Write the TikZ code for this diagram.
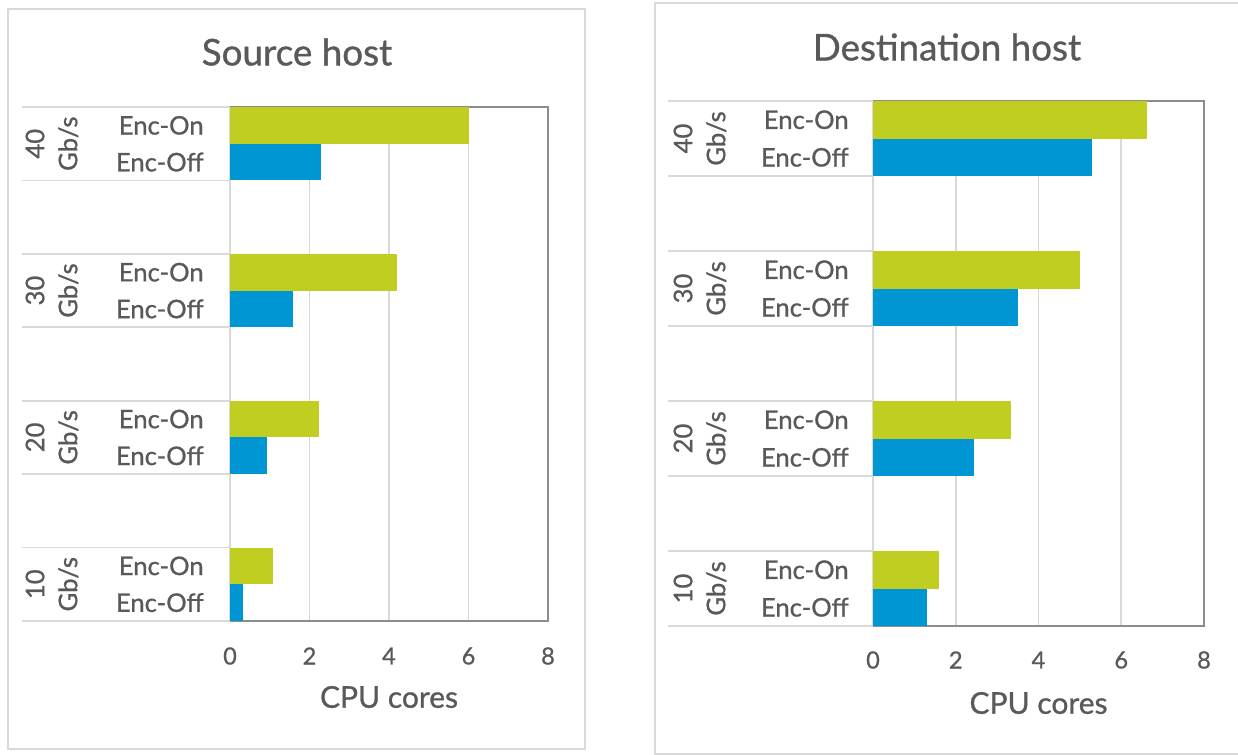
\documentclass[tikz,border=0pt]{standalone}
\usepackage{fontspec}
\setmainfont{Lato}[FakeBold=0.9]
\definecolor{encon}{HTML}{C0CE22}
\definecolor{encoff}{HTML}{0096D3}
\definecolor{txt}{HTML}{595959}
\definecolor{framec}{HTML}{D9D9D9}
\definecolor{plotb}{HTML}{8C8C8C}
\definecolor{gridc}{HTML}{D9D9D9}
\tikzset{
  panelbox/.style={draw=framec, line width=1pt},
  gridline/.style={draw=gridc, line width=0.9pt},
  plotborder/.style={draw=plotb, line width=1.1pt},
  onbar/.style={fill=encon},
  offbar/.style={fill=encoff},
  titletext/.style={text=txt, font=\fontsize{18.4}{21}\selectfont, inner sep=0pt},
  enclabel/.style={text=txt, font=\fontsize{12.8}{14}\selectfont, anchor=east, inner sep=0pt},
  catlabel/.style={text=txt, font=\fontsize{12.8}{16.5}\selectfont, rotate=90, align=center, inner sep=0pt},
  ticklabel/.style={text=txt, font=\fontsize{11.8}{13}\selectfont, inner sep=0pt},
  axistitle/.style={text=txt, font=\fontsize{15}{17}\selectfont, inner sep=0pt},
}
% panel body, uses \Pn \Xz \U \T \R \Lx \Cx \Ex \Ty \Cy \Data
\newcommand\chartbody{%
  \pgfmathsetmacro\Xe{\Xz+8*\U}
  \pgfmathsetmacro\Bt{\T+14*\R}
  % gridlines
  \foreach \k in {2,4,6}{
    \pgfmathsetmacro\gx{\Xz+\k*\U}
    \draw[gridline] (\gx,\T) -- (\gx,\Bt);
  }
  \draw[gridline] (\Xz,\T) -- (\Xz,\Bt);
  % plot border (top, right, bottom)
  \draw[plotborder] (\Xz,\T) -- (\Xe,\T) -- (\Xe,\Bt) -- (\Xz,\Bt);
  % groups
  \foreach \g/\on/\off [count=\i from 0] in \Data {
    \pgfmathsetmacro\gt{\T+\i*4*\R}
    \pgfmathsetmacro\gm{\gt+\R}
    \pgfmathsetmacro\gb{\gt+2*\R}
    \pgfmathsetmacro\xon{\Xz+\on*\U}
    \pgfmathsetmacro\xoff{\Xz+\off*\U}
    \pgfmathsetmacro\yon{\gt+0.5*\R}
    \pgfmathsetmacro\yoff{\gt+1.5*\R}
    \fill[onbar] (\Xz,\gt) rectangle (\xon,\gm);
    \fill[offbar] (\Xz,\gm) rectangle (\xoff,\gb);
    \draw[gridline] (\Lx,\gt) -- (\Xz,\gt);
    \draw[gridline] (\Lx,\gb) -- (\Xz,\gb);
    \node[enclabel] (\Pn-on\g) at (\Ex,\yon) {Enc-On};
    \node[enclabel] (\Pn-off\g) at (\Ex,\yoff) {Enc-Off};
    \node[catlabel] (\Pn-cat\g) at (\Cx,\gm) {\g\\Gb/s};
  }
  % tick labels
  \foreach \k in {0,2,4,6,8}{
    \pgfmathsetmacro\gx{\Xz+\k*\U}
    \node[ticklabel] (\Pn-tick\k) at (\gx,\Ty) {\k};
  }
  \pgfmathsetmacro\mx{(\Xz+\Xe)/2}
  \node[axistitle] (\Pn-xtitle) at (\mx,\Cy) {CPU cores};
}
\begin{document}
\begin{tikzpicture}[x=0.5pt, y=-0.5pt]
\useasboundingbox (0,0) rectangle (1238,755);
% ---------- left panel ----------
\draw[panelbox] (8,9) rectangle (585,749);
\node[titletext] (srctitle) at (297,52) {Source host};
\def\Pn{src}\def\Xz{230}\def\U{39.75}\def\T{107}\def\R{36.71}
\def\Lx{22}\def\Cx{52}\def\Ex{204}\def\Ty{656}\def\Cy{697}
\def\Data{40/6.0/2.29, 30/4.2/1.58, 20/2.24/0.93, 10/1.08/0.33}
\chartbody
% ---------- right panel ----------
\draw[panelbox] (1238,3) -- (655,3) -- (655,754) -- (1238,754);
\node[titletext] (dsttitle) at (947,47) {Destination host};
\def\Pn{dst}\def\Xz{873}\def\U{41.375}\def\T{101}\def\R{37.5}
\def\Lx{668}\def\Cx{700}\def\Ex{849}\def\Ty{660}\def\Cy{703}
\def\Data{40/6.62/5.29, 30/5.0/3.5, 20/3.33/2.44, 10/1.59/1.30}
\chartbody
\end{tikzpicture}
\end{document}
